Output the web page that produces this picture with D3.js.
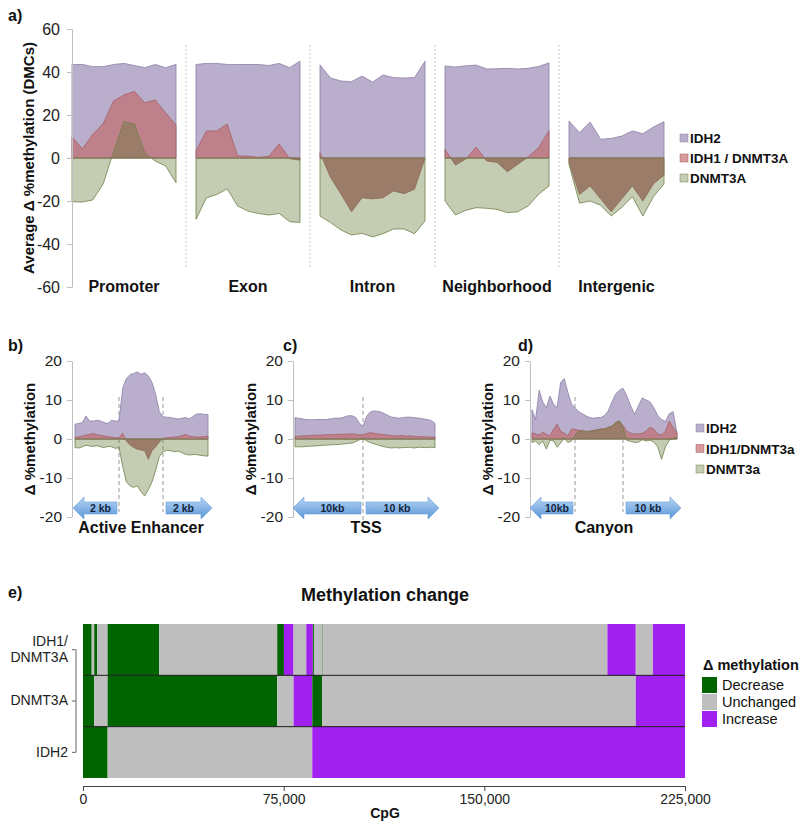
<!DOCTYPE html>
<html>
<head>
<meta charset="utf-8">
<script src="https://cdn.jsdelivr.net/npm/d3@7"></script>
<style>
  body { margin: 0; background: #fff; }
  svg { font-family: "Liberation Sans", Arial, sans-serif; }
</style>
</head>
<body>
<svg id="fig" width="800" height="827"></svg>
<script>
// ---- data: panel a (average delta %methylation of DMCs per region) ----
const seriesNames = ["IDH2", "IDH1 / DNMT3A", "DNMT3A"];
const regionNames = ["Promoter", "Exon", "Intron", "Neighborhood", "Intergenic"];
const aTicks = [-60, -40, -20, 0, 20, 40, 60];

const promoterIdh2 = [43.5, 43.5, 42.5, 42.5, 43.5, 44, 43, 42, 43.5, 42, 43.5];
const promoterIdh1 = [9.8, 4.3, 11, 16, 26.5, 29.3, 31, 25.7, 27, 21, 15.3];
const promoterDnmt3a = [-20.3, -20.5, -19.5, -12, 3, 16.9, 15.8, 2.5, -1.4, -3.7, -11.5];

const exonIdh2 = [43.5, 44, 44, 43.5, 43.5, 43.5, 43.5, 43, 44, 42, 45];
const exonIdh1 = [3.3, 12.6, 12.6, 15.8, 1, 0.8, 0.3, 0.8, 6.5, -0.3, -1];
const exonDnmt3a = [-28.5, -18.5, -17, -14.3, -22.3, -24.7, -25.8, -26.5, -25.8, -29.6, -30];

const intronIdh2 = [43.3, 37.2, 35.8, 35.5, 38.1, 35.3, 38.6, 37.4, 37.2, 37.4, 45];
const intronIdh1 = [2.5, -9, -16.8, -25, -18.5, -19, -18.5, -15.3, -16.6, -14.5, 0];
const intronDnmt3a = [-27, -30, -33.5, -35.8, -35, -36.7, -35.2, -33, -33, -35.2, -29.3];

const neighborhoodIdh2 = [42.8, 42.3, 42.9, 43.2, 41.4, 41.5, 41.7, 41.4, 41.7, 42.6, 44.2];
const neighborhoodIdh1 = [4, -3.3, -0.5, 5.1, -1.4, -2, -6.4, -2.9, 0.5, 4.8, 12.6];
const neighborhoodDnmt3a = [-20, -26.5, -24.3, -23.1, -23.4, -23.9, -25.4, -25, -22.3, -16.9, -13];

const intergenicIdh2 = [17.2, 11.8, 16.7, 8.7, 9.1, 10.2, 12.6, 11.3, 14.4, 16.9];
const intergenicIdh1 = [-2, -17, -13, -19, -25, -19, -13, -20, -12, -8];
const intergenicDnmt3a = [-3, -21, -20, -22, -27, -23, -18, -27, -18, -12];

// ---- data: panels b, c, d (delta %methylation profiles) ----
const profTicks = [-20, -10, 0, 10, 20];
const profNames = ["IDH2", "IDH1/DNMT3a", "DNMT3a"];

const enhancerIdh2 = [3.8, 4.0, 4.2, 5.9, 4.6, 4.6, 4.8, 4.6, 4.2, 4.0, 4.8, 4.6, 4.6,
  13, 15.5, 16.5, 16.8, 17.2, 16.6, 17.0, 16.2, 14.5, 11.5, 7, 5.7,
  5.6, 5.5, 5.3, 5.1, 5.3, 5.5, 5.2, 5.8, 6.4, 6.5, 6.3, 6.3];
const enhancerIdh1 = [0.4, 0.5, 0.8, 1.0, 1.2, 1.4, 1.1, 0.9, 0.8, 0.6, 0.5, 0.3, 0.3,
  1.5, -0.5, -1.5, -2.2, -2.6, -2.8, -3.0, -5.2, -3, -2, -0.8, 0.2,
  0.3, 0.4, 0.5, 0.6, 0.8, 1.2, 0.7, 0.6, 0.5, 0.5, 0.6, 0.7];
const enhancerDnmt3a = [-2.2, -2.3, -2.0, -1.6, -1.8, -1.9, -1.7, -2.0, -2.2, -1.9, -2.0, -2.4, -2.2,
  -7, -11, -12, -12.4, -12, -13.5, -14.6, -13, -11, -8, -4.5, -3.3,
  -2.9, -3.0, -3.3, -3.1, -3.5, -3.9, -4.1, -4.0, -4.0, -4.2, -4.3, -4.4];

const tssIdh2 = [5.5, 5.3, 5.2, 5.0, 5.0, 4.9, 5.0, 5.0, 5.0, 5.0, 5.1, 5.2, 5.4, 5.3, 5.5, 5.8, 6.0, 5.9, 5.4, 4.0,
  3.3, 5.8, 6.9, 7.2, 7.1, 6.9, 6.5, 6.0, 5.6, 5.5, 5.3, 5.5, 5.6, 5.6, 5.5, 5.4, 5.3, 5.1, 5.0, 4.7, 4.0];
const tssIdh1 = [0.6, 0.7, 0.8, 0.8, 0.9, 0.9, 1.0, 1.0, 1.0, 1.1, 1.1, 1.1, 1.2, 1.2, 1.2, 1.2, 1.3, 1.3, 1.2, 1.0,
  1.1, 1.4, 1.6, 1.5, 1.3, 1.2, 1.1, 1.0, 0.9, 0.8, 0.8, 0.9, 0.7, 0.8, 0.7, 0.6, 0.6, 0.6, 0.5, 0.5, 0.5];
const tssDnmt3a = [-2.0, -2.0, -2.0, -1.9, -1.9, -1.8, -1.8, -1.7, -1.6, -1.6, -1.5, -1.5, -1.4, -1.4, -1.3, -1.2, -1.1, -1.0, -0.6, -0.2,
  0.2, -0.5, -0.9, -1.2, -1.5, -1.8, -2.0, -2.2, -2.3, -2.2, -2.3, -2.2, -2.2, -2.1, -2.3, -2.2, -2.1, -2.2, -2.2, -2.1, -2.2];

const canyonIdh2 = [7.5, 5.0, 12.5, 9.5, 8.0, 11.0, 9.0, 8.0, 14.5, 15.5, 12.0, 9.0, 8.0, 7.0, 6.5, 5.9, 5.5, 5.3, 5.5, 5.5,
  6.0, 7.2, 9.5, 11.5, 12.5, 13.0, 11.0, 8.5, 6.3, 8.5, 10.5, 10.0, 9.5, 8.0, 6.0, 5.0, 4.5, 6.5, 7.0, 1.5];
const canyonIdh1 = [1.6, 1.3, 1.0, 1.8, 1.2, 0.8, 2.5, 3.8, 2.0, 1.5, 0.8, 2.5, 2.5, 2.2, 2.2, 2.0, 2.0, 2.2, 2.4, 2.6,
  2.6, 3.0, 3.3, 4.2, 4.5, 3.5, 2.0, 1.5, 1.3, 1.3, 1.5, 2.0, 3.0, 2.5, 1.3, 1.0, 2.0, 4.6, 3.0, 1.5];
const canyonDnmt3a = [-0.9, -0.5, -1.5, -0.5, -2.6, -0.3, -0.5, -2.1, -1.0, 0.3, -0.9, -0.5, 1.0, 2.0, 2.0, 1.8, 2.0, 2.1, 2.3, 2.5,
  2.5, 3.0, 3.3, 4.2, 4.7, 3.0, -0.4, -0.6, -0.9, -0.8, -0.2, -0.5, -0.3, -0.8, -2.0, -5.2, -2.0, -0.3, 0.2, 0.3];

// ---- data: panel e (methylation change along CpGs) ----
const cpgRows = ["IDH1/DNMT3A", "DNMT3A", "IDH2"];
const stateNames = ["Decrease", "Unchanged", "Increase"];
const cpgTicks = [0, 75000, 150000, 225000];
const rowIdh1Dnmt3a = [
  [0, 3250, "Decrease"], [3250, 4200, "Unchanged"], [4200, 5340, "Decrease"], [5340, 9200, "Unchanged"],
  [9200, 28500, "Decrease"], [28500, 72600, "Unchanged"], [72600, 75100, "Decrease"], [75100, 78700, "Increase"],
  [78700, 83450, "Unchanged"], [83450, 85900, "Increase"], [85900, 86300, "Decrease"], [86300, 89500, "Unchanged"],
  [89500, 89650, "Decrease"], [89650, 196000, "Unchanged"], [196000, 206600, "Increase"],
  [206600, 213000, "Unchanged"], [213000, 225000, "Increase"]];
const rowDnmt3a = [
  [0, 4200, "Decrease"], [4200, 9200, "Unchanged"], [9200, 72600, "Decrease"], [72600, 78700, "Unchanged"],
  [78700, 85700, "Increase"], [85700, 89400, "Decrease"], [89400, 206600, "Unchanged"], [206600, 225000, "Increase"]];
const rowIdh2 = [[0, 9200, "Decrease"], [9200, 85700, "Unchanged"], [85700, 225000, "Increase"]];

// ---- styles ----
const fills = ["#b9aecb", "#be808a", "rgba(91,116,47,0.36)"];
const strokes = ["#8a7fa6", "#a65f68", "#6e8048"];
const legendFills = ["#b9aecb", "#d99a9c", "#c4cdb4"];
const font = "'Liberation Sans', Arial, sans-serif";
const plainNum = d => String(d); // hyphen minus like the original

const svg = d3.select("#fig");
const defs = svg.append("defs");
const grad = defs.append("linearGradient").attr("id", "arrowGrad")
  .attr("x1", 0).attr("y1", 0).attr("x2", 0).attr("y2", 1);
grad.append("stop").attr("offset", "0%").attr("stop-color", "#b8d6f5");
grad.append("stop").attr("offset", "100%").attr("stop-color", "#5896d6");

function drawSeries(g, x, y, series) {
  const area = d3.area().x((d, i) => x(i)).y0(y(0)).y1(d => y(d));
  series.forEach((vals, k) => {
    g.append("path").datum(vals).attr("d", area)
      .attr("fill", fills[k]).attr("stroke", strokes[k])
      .attr("stroke-width", 0.8).attr("stroke-linejoin", "round");
  });
}

function styleAxis(g, size) {
  g.attr("font-family", font);
  g.select(".domain").attr("stroke", "#bfbfbf");
  g.selectAll(".tick line").attr("stroke", "#bfbfbf");
  g.selectAll(".tick text").attr("font-size", size).attr("fill", "#222");
}

function label(x, y, txt, size, bold, anchor) {
  return svg.append("text").attr("x", x).attr("y", y).text(txt)
    .attr("font-size", size).attr("font-weight", bold ? "bold" : "normal")
    .attr("text-anchor", anchor || "start").attr("fill", "#111");
}

function vLabel(x, y, txt, size) {
  svg.append("text").attr("transform", `translate(${x},${y}) rotate(-90)`)
    .attr("text-anchor", "middle").attr("font-size", size).attr("font-weight", "bold")
    .attr("fill", "#111").text(txt);
}

function legend(x, y0, step, names) {
  names.forEach((n, i) => {
    const yy = y0 + i * step;
    svg.append("rect").attr("x", x).attr("y", yy - 4).attr("width", 8).attr("height", 8)
      .attr("fill", legendFills[i]).attr("stroke", strokes[i]).attr("stroke-width", 0.5);
    label(x + 10, yy + 5, n, 13.5, true);
  });
}

// ================= panel a =================
label(8, 21, "a)", 16, true);
const ya = d3.scaleLinear().domain([-60, 60]).range([287, 29]);
const regionRanges = [[72, 176], [196, 300], [320, 425], [445, 549], [569, 664]];
const regionData = [
  [promoterIdh2, promoterIdh1, promoterDnmt3a],
  [exonIdh2, exonIdh1, exonDnmt3a],
  [intronIdh2, intronIdh1, intronDnmt3a],
  [neighborhoodIdh2, neighborhoodIdh1, neighborhoodDnmt3a],
  [intergenicIdh2, intergenicIdh1, intergenicDnmt3a]];

// dotted separators between regions
for (let i = 0; i < regionRanges.length - 1; i++) {
  const sx = (regionRanges[i][1] + regionRanges[i + 1][0]) / 2;
  svg.append("line").attr("x1", sx).attr("x2", sx).attr("y1", 45).attr("y2", 268)
    .attr("stroke", "#c8c8c8").attr("stroke-dasharray", "2,2").attr("stroke-width", 1);
}

const gA = svg.append("g");
regionData.forEach((series, i) => {
  const xs = d3.scaleLinear().domain([0, series[0].length - 1]).range(regionRanges[i]);
  drawSeries(gA, xs, ya, series);
  label((regionRanges[i][0] + regionRanges[i][1]) / 2, 292, regionNames[i], 16, true, "middle");
});

const axA = svg.append("g").attr("transform", "translate(72,0)")
  .call(d3.axisLeft(ya).tickValues(aTicks).tickFormat(plainNum)
    .tickSize(5).tickSizeOuter(0).tickPadding(7));
styleAxis(axA, 16);
vLabel(34, 158, "Average \u0394 %methylation (DMCs)", 15);
legend(680, 138, 20, seriesNames);

// ================= panels b, c, d =================
const yp = d3.scaleLinear().domain([-20, 20]).range([517, 361]);

function arrowPath(xTip, xEnd, yc) {
  const dir = xEnd > xTip ? 1 : -1;
  const xh = xTip + dir * 11;
  const bh = 6, hh = 11;
  return `M${xTip},${yc} L${xh},${yc - hh} L${xh},${yc - bh} L${xEnd},${yc - bh} ` +
    `L${xEnd},${yc + bh} L${xh},${yc + bh} L${xh},${yc + hh} Z`;
}

function arrow(xTip, xEnd, txt) {
  const yc = 508;
  svg.append("path").attr("d", arrowPath(xTip, xEnd, yc))
    .attr("fill", "url(#arrowGrad)").attr("stroke", "#6a9fd8").attr("stroke-width", 0.6);
  const xh = xTip + (xEnd > xTip ? 11 : -11);
  svg.append("text").attr("x", (xh + xEnd) / 2).attr("y", yc + 4)
    .attr("text-anchor", "middle").attr("font-size", 10.5).attr("font-weight", "bold")
    .attr("fill", "#14243c").text(txt);
}

function profilePanel(opt) {
  label(opt.tagX, 351, opt.tag, 16, true);
  // dashed boundaries
  opt.bounds.forEach(b => {
    const bx = opt.x(b);
    svg.append("line").attr("x1", bx).attr("x2", bx).attr("y1", 397).attr("y2", opt.dashEnd)
      .attr("stroke", "#999").attr("stroke-dasharray", "4,3").attr("stroke-width", 1);
  });
  drawSeries(svg.append("g"), opt.x, yp, opt.series);
  const ax = svg.append("g").attr("transform", `translate(${opt.axisX},0)`)
    .call(d3.axisLeft(yp).tickValues(profTicks).tickFormat(plainNum)
      .tickSize(5).tickSizeOuter(0).tickPadding(5));
  styleAxis(ax, 15.5);
  vLabel(opt.axisX - 37, 439, "\u0394 %methylation", 15);
  const n = opt.series[0].length - 1;
  const first = opt.bounds[0], last = opt.bounds[opt.bounds.length - 1];
  arrow(opt.x(0) - 2, opt.x(first) - 2, opt.leftText);
  arrow(opt.x(n) + 4, opt.x(last) + 3, opt.rightText);
  label(opt.titleX, 533, opt.title, 16, true, "middle");
}

profilePanel({
  tag: "b)", tagX: 8, axisX: 72, title: "Active Enhancer", titleX: 141,
  x: d3.scaleLinear().domain([0, 12, 24, 36]).range([75, 119, 163, 208]),
  bounds: [12, 24], dashEnd: 512, leftText: "2 kb", rightText: "2 kb",
  series: [enhancerIdh2, enhancerIdh1, enhancerDnmt3a]
});
profilePanel({
  tag: "c)", tagX: 283, axisX: 293, title: "TSS", titleX: 366,
  x: d3.scaleLinear().domain([0, 20, 40]).range([295, 363, 435]),
  bounds: [20], dashEnd: 520, leftText: "10kb", rightText: "10 kb",
  series: [tssIdh2, tssIdh1, tssDnmt3a]
});
profilePanel({
  tag: "d)", tagX: 518, axisX: 530, title: "Canyon", titleX: 604,
  x: d3.scaleLinear().domain([0, 12, 25, 39]).range([532, 575, 623, 677]),
  bounds: [12, 25], dashEnd: 512, leftText: "10kb", rightText: "10 kb",
  series: [canyonIdh2, canyonIdh1, canyonDnmt3a]
});
legend(696, 428, 20.5, profNames);

// ================= panel e =================
label(8, 598, "e)", 16, true);
label(385, 601, "Methylation change", 18, true, "middle");

const xe = d3.scaleLinear().domain([0, 225000]).range([83, 685]);
const ye = d3.scaleBand().domain(cpgRows).range([624, 778]);
const stateColor = d3.scaleOrdinal().domain(stateNames).range(["#006400", "#bebebe", "#a020f0"]);
const rowSegments = [rowIdh1Dnmt3a, rowDnmt3a, rowIdh2];

const gE = svg.append("g");
rowSegments.forEach((segs, r) => {
  gE.selectAll(null).data(segs).enter().append("rect")
    .attr("x", d => xe(d[0])).attr("width", d => xe(d[1]) - xe(d[0]))
    .attr("y", ye(cpgRows[r])).attr("height", ye.bandwidth())
    .attr("fill", d => stateColor(d[2]));
});
cpgRows.slice(1).forEach(rw => {
  gE.append("line").attr("x1", xe(0)).attr("x2", xe(225000))
    .attr("y1", ye(rw)).attr("y2", ye(rw)).attr("stroke", "#1a1a1a").attr("stroke-width", 1);
});

const axE = svg.append("g").attr("transform", "translate(0,786)")
  .call(d3.axisBottom(xe).tickValues(cpgTicks).tickFormat(d3.format(",")).tickSize(5).tickSizeOuter(0));
axE.attr("font-family", font);
axE.select(".domain").attr("stroke", "#444");
axE.selectAll(".tick line").attr("stroke", "#444");
axE.selectAll(".tick text").attr("font-size", 14).attr("fill", "#222");
label(385, 818, "CpG", 14, true, "middle");

// row axis
const ayE = svg.append("g").attr("transform", "translate(76,0)")
  .call(d3.axisLeft(ye).tickSize(4).tickSizeOuter(0).tickPadding(4));
ayE.attr("font-family", font);
ayE.select(".domain").remove();
ayE.selectAll(".tick line").attr("stroke", "#666");
ayE.selectAll(".tick text").attr("font-size", 14).attr("fill", "#222");
ayE.append("line").attr("x1", 0).attr("x2", 0)
  .attr("y1", ye(cpgRows[0]) + ye.bandwidth() / 2)
  .attr("y2", ye(cpgRows[cpgRows.length - 1]) + ye.bandwidth() / 2)
  .attr("stroke", "#666");
// split the two-line label
ayE.selectAll(".tick text").filter(d => d === "IDH1/DNMT3A").each(function () {
  const t = d3.select(this).text("");
  t.append("tspan").attr("x", -8).attr("dy", "-0.25em").text("IDH1/");
  t.append("tspan").attr("x", -8).attr("dy", "1.15em").text("DNMT3A");
});

// legend e
label(703, 670, "\u0394 methylation", 14.5, true);
stateNames.forEach((s, i) => {
  svg.append("rect").attr("x", 702).attr("y", 677 + i * 17).attr("width", 15).attr("height", 16)
    .attr("fill", stateColor(s));
  label(722, 690 + i * 17, s, 14.5, false);
});
</script>
</body>
</html>
